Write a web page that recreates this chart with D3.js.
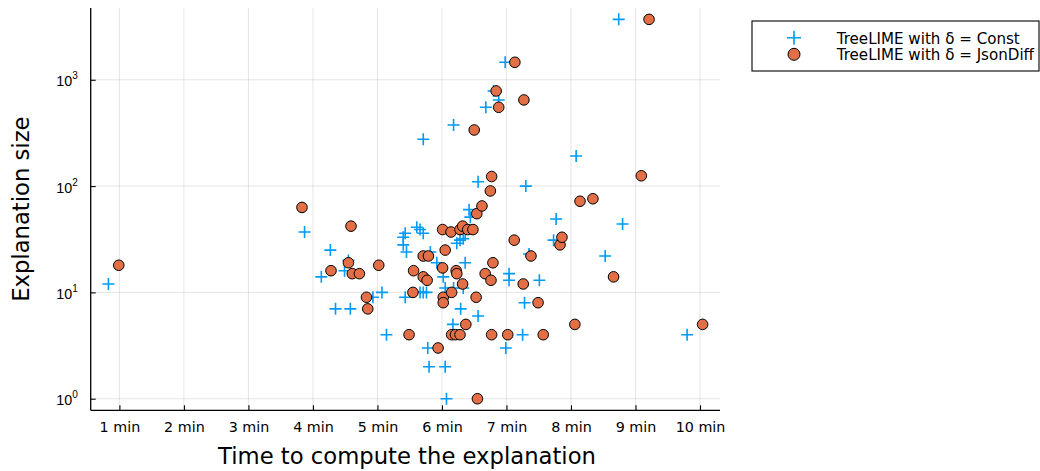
<!DOCTYPE html>
<html>
<head>
<meta charset="utf-8">
<script src="https://cdn.jsdelivr.net/npm/d3@7"></script>
<style>
  html, body { margin: 0; padding: 0; background: #fff; }
  svg { display: block; font-family: "DejaVu Sans", sans-serif; }
</style>
</head>
<body>
<svg id="chart" width="1040" height="471"></svg>
<script>
// Computation time (minutes) and explanation size for each sample
const constTime = [0.83, 3.87, 4.27, 4.13, 4.49, 4.55, 4.35, 4.58, 4.93, 5.07, 5.14,
  5.40, 5.40, 5.43, 5.45, 5.61, 5.66, 5.71, 5.43, 5.71, 6.18, 5.82, 5.92,
  5.66, 5.71, 5.76, 5.78, 5.80, 6.05, 6.07, 6.02, 6.05, 6.18, 6.17, 6.29,
  6.23, 6.28, 6.33, 6.36, 6.36, 6.33, 6.42, 6.44, 6.56, 6.68, 6.56, 6.80,
  6.88, 6.98, 7.04, 7.04, 6.99, 7.25, 7.28, 7.30, 7.35, 7.51, 7.73, 7.77,
  8.08, 8.53, 8.74, 8.80, 9.80];
const constSize = [12, 37, 25, 14, 16, 20, 7, 7, 9, 10, 4,
  28, 33, 36, 24, 41, 39, 36, 9, 276, 376, 24, 19,
  10, 10, 10, 3, 2, 2, 1, 14, 11, 11, 5, 7,
  29, 31, 32, 37, 19, 11, 60, 51, 110, 551, 6, 785,
  646, 1460, 15, 13, 3, 4, 8, 100, 23, 13, 31, 49,
  192, 22, 3700, 44, 4];

const jsonTime = [0.99, 3.83, 4.28, 4.55, 4.59, 4.61, 4.72, 4.83, 4.85, 5.02, 5.49,
  5.56, 5.55, 5.71, 5.79, 5.71, 5.77, 5.94, 6.01, 6.05, 6.01, 6.02, 6.02,
  6.14, 6.15, 6.22, 6.23, 6.15, 6.21, 6.28, 6.28, 6.32, 6.32, 6.37, 6.40,
  6.48, 6.53, 6.54, 6.62, 6.50, 6.55, 6.67, 6.76, 6.79, 6.75, 6.77, 6.77,
  6.84, 6.88, 7.02, 7.12, 7.13, 7.26, 7.27, 7.38, 7.49, 7.57, 7.83, 7.86,
  8.14, 8.34, 8.06, 8.66, 9.09, 9.21, 10.04];
const jsonSize = [18, 63, 16, 19, 42, 15, 15, 9, 7, 18, 4,
  16, 10, 22, 22, 14, 13, 3, 39, 25, 17, 9, 8,
  37, 10, 16, 15, 4, 4, 4, 39, 42, 12, 5, 39,
  39, 9, 55, 65, 337, 1, 15, 13, 19, 90, 123, 4,
  785, 551, 4, 31, 1460, 12, 646, 22, 8, 4, 28, 33,
  72, 76, 5, 14, 125, 3700, 5];

const xTicks = [1, 2, 3, 4, 5, 6, 7, 8, 9, 10];
const xTickLabels = ["1 min", "2 min", "3 min", "4 min", "5 min", "6 min", "7 min", "8 min", "9 min", "10 min"];
const yTicks = [1, 10, 100, 1000];
const yTickExponents = ["0", "1", "2", "3"];
const seriesNames = ["TreeLIME with δ = Const", "TreeLIME with δ = JsonDiff"];

const blue = "#009af9";
const orange = "#e26f46";

const svg = d3.select("#chart");
const plot = { left: 90.7, right: 720, top: 8, bottom: 410.3 };

const x = d3.scaleLinear().domain([0.555, 10.31]).range([plot.left, plot.right]);
const y = d3.scaleLog().domain([0.778, 4732]).range([plot.bottom, plot.top]);

// grid
const grid = svg.append("g").attr("stroke", "#000").attr("stroke-opacity", 0.1).attr("stroke-width", 1);
grid.selectAll("line.gx").data(xTicks).join("line")
  .attr("x1", d => x(d)).attr("x2", d => x(d))
  .attr("y1", plot.top).attr("y2", plot.bottom);
grid.selectAll("line.gy").data(yTicks).join("line")
  .attr("x1", plot.left).attr("x2", plot.right)
  .attr("y1", d => y(d)).attr("y2", d => y(d));

// x axis
const xAxis = svg.append("g")
  .attr("transform", `translate(0,${plot.bottom})`)
  .call(d3.axisBottom(x).tickValues(xTicks)
    .tickFormat((d, i) => xTickLabels[i]).tickSizeInner(-5).tickSizeOuter(0).tickPadding(12));
xAxis.select(".domain").attr("stroke", "#000").attr("stroke-width", 1.3)
  .attr("d", `M${plot.left},0H${plot.right}`);
xAxis.selectAll(".tick line").attr("stroke", "#000").attr("stroke-width", 1.1);
xAxis.selectAll(".tick text").attr("font-size", 14.3).attr("fill", "#000")
  .attr("font-family", "DejaVu Sans, sans-serif");

// y axis
const yAxis = svg.append("g")
  .attr("transform", `translate(${plot.left},0)`)
  .call(d3.axisLeft(y).tickValues(yTicks).tickFormat("").tickSizeInner(-5).tickSizeOuter(0));
yAxis.select(".domain").attr("stroke", "#000").attr("stroke-width", 1.3)
  .attr("d", `M0,${plot.bottom}V${plot.top}`);
yAxis.selectAll(".tick line").attr("stroke", "#000").attr("stroke-width", 1.1);
yAxis.selectAll(".tick").each(function(d, i) {
  const t = d3.select(this).append("text")
    .attr("x", -13).attr("y", 6).attr("text-anchor", "end")
    .attr("font-size", 14.3).attr("fill", "#000");
  t.append("tspan").text("10");
  t.append("tspan").attr("dy", -7).attr("font-size", 10).text(yTickExponents[i]);
});

// axis titles
svg.append("text")
  .attr("x", 407).attr("y", 464)
  .attr("text-anchor", "middle").attr("font-size", 22.7).attr("fill", "#000")
  .text("Time to compute the explanation");
svg.append("text")
  .attr("transform", `translate(28.5,${(plot.top + plot.bottom) / 2}) rotate(-90)`)
  .attr("text-anchor", "middle").attr("font-size", 22.7).attr("fill", "#000")
  .text("Explanation size");

// series
const constData = constTime.map((t, i) => ({ t, s: constSize[i] }));
const jsonData = jsonTime.map((t, i) => ({ t, s: jsonSize[i] }));
const crossPath = (cx, cy, h) => `M${cx - h},${cy}H${cx + h}M${cx},${cy - h}V${cy + h}`;

svg.append("g").selectAll("path").data(constData).join("path")
  .attr("d", d => crossPath(x(d.t), y(d.s), 6))
  .attr("stroke", blue).attr("stroke-width", 1.6).attr("fill", "none");

svg.append("g").selectAll("circle").data(jsonData).join("circle")
  .attr("cx", d => x(d.t)).attr("cy", d => y(d.s)).attr("r", 5.3)
  .attr("fill", orange).attr("stroke", "#000").attr("stroke-width", 1);

// legend
const legend = svg.append("g");
legend.append("rect").attr("x", 752).attr("y", 21).attr("width", 287).attr("height", 50)
  .attr("fill", "#fff").attr("stroke", "#000").attr("stroke-width", 1.1);
legend.append("path").attr("d", crossPath(794, 37.7, 7))
  .attr("stroke", blue).attr("stroke-width", 1.6).attr("fill", "none");
legend.append("circle").attr("cx", 794).attr("cy", 54.3).attr("r", 6)
  .attr("fill", orange).attr("stroke", "#000").attr("stroke-width", 1);
legend.selectAll("text").data(seriesNames).join("text")
  .attr("x", 836.7).attr("y", (d, i) => 43.5 + i * 16.5)
  .attr("font-size", 15.1).attr("fill", "#000").text(d => d);
</script>
</body>
</html>
